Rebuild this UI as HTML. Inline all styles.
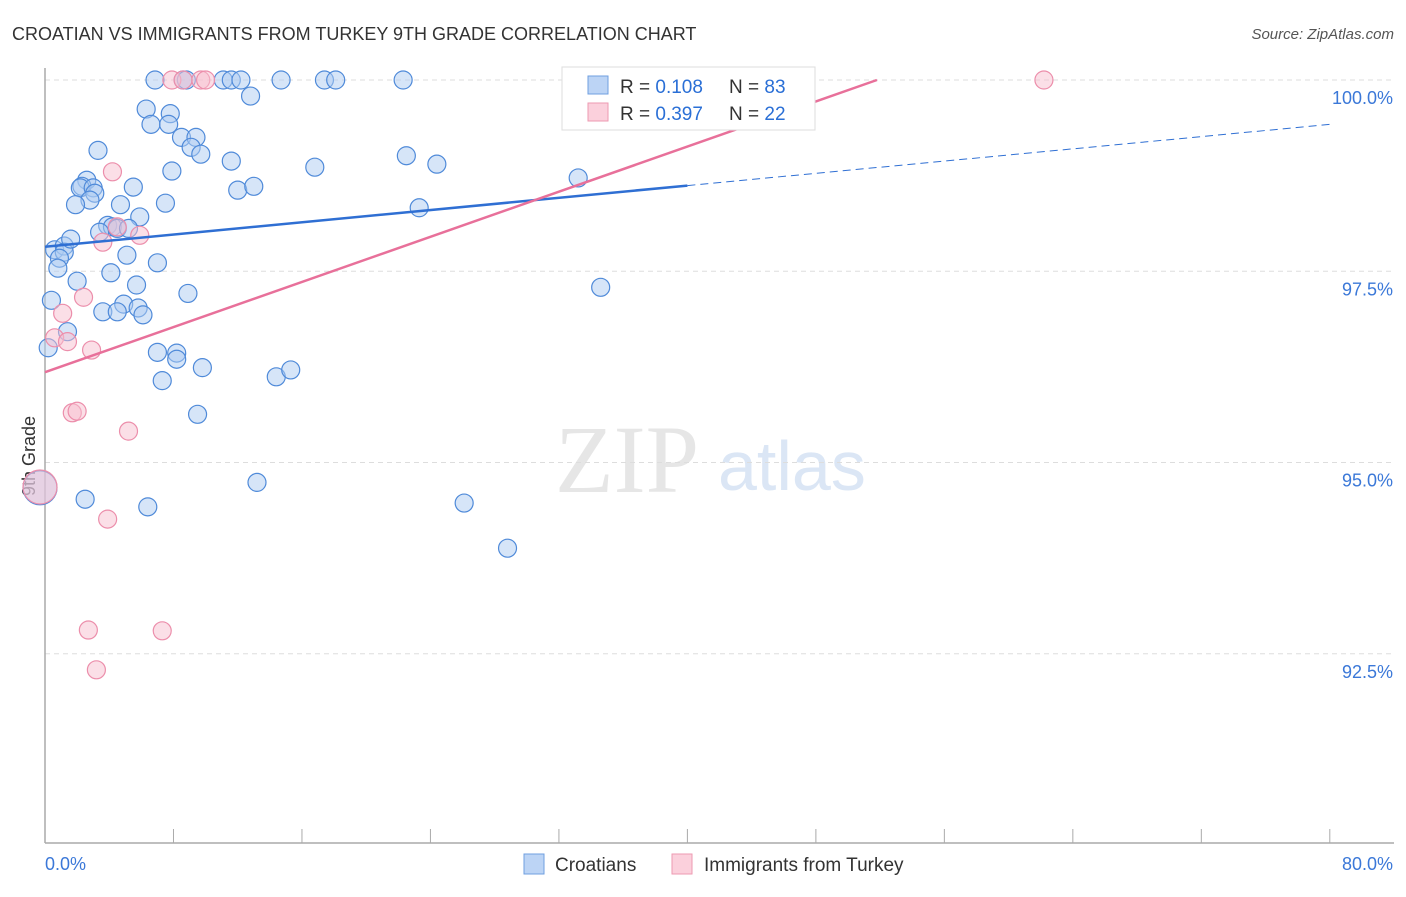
<!DOCTYPE html>
<html><head><meta charset="utf-8"><style>
body{margin:0;background:#fff;font-family:"Liberation Sans",sans-serif;}
#c{position:relative;width:1406px;height:892px;}
</style></head><body>
<div id="c">
<svg id="s" width="1406" height="892" xmlns="http://www.w3.org/2000/svg">
<text x="12" y="40" font-size="18" fill="#333">CROATIAN VS IMMIGRANTS FROM TURKEY 9TH GRADE CORRELATION CHART</text>
<text x="1394" y="39" font-size="15" fill="#555" font-style="italic" text-anchor="end">Source: ZipAtlas.com</text>
<text x="35" y="456" font-size="18" fill="#333" text-anchor="middle" transform="rotate(-90 35 456)">9th Grade</text>
<text x="555" y="492" font-size="96" fill="#e6e6e6" font-family="Liberation Serif,serif">ZIP</text>
<text x="718" y="490" font-size="70" fill="#dbe6f5">atlas</text>
<g id="grid"></g><g id="pts"></g><g id="lines"></g>
<rect x="562" y="67" width="253" height="63" fill="#fff" stroke="#ddd"/>
<rect x="588" y="76" width="20" height="18" fill="#bcd4f5" stroke="#6f9fe0"/>
<rect x="588" y="103" width="20" height="18" fill="#fbd0dc" stroke="#ee9ab2"/>
<text x="620" y="93" font-size="19" fill="#333">R = <tspan fill="#2a6fd6">0.108</tspan></text>
<text x="729" y="93" font-size="19" fill="#333">N = <tspan fill="#2a6fd6">83</tspan></text>
<text x="620" y="120" font-size="19" fill="#333">R = <tspan fill="#2a6fd6">0.397</tspan></text>
<text x="729" y="120" font-size="19" fill="#333">N = <tspan fill="#2a6fd6">22</tspan></text>
<rect x="524" y="854" width="20" height="20" fill="#bcd4f5" stroke="#6f9fe0"/>
<text x="555" y="871" font-size="19" fill="#333">Croatians</text>
<rect x="672" y="854" width="20" height="20" fill="#fbd0dc" stroke="#ee9ab2"/>
<text x="704" y="871" font-size="19" fill="#333">Immigrants from Turkey</text>
</svg></div>
<script>
const xTicksLabels=["0.0%","80.0%"];
const yTickValues=[100,97.5,95,92.5];
const yTickLabels=["100.0%","97.5%","95.0%","92.5%"];
const blueX=[6.85,8.6,8.8,11.1,11.6,12.2,14.7,17.4,18.1,22.3,36.9,12.8,6.3,7.8,6.6,7.7,8.5,9.4,9.1,9.7,3.3,11.6,16.8,22.5,24.4,7.9,33.2,2.6,2.3,2.2,3.0,3.1,5.5,12.0,13.0,2.8,1.9,4.7,7.5,23.3,5.9,3.9,4.2,4.5,3.4,5.2,0.6,1.2,1.2,0.9,1.6,0.8,5.1,7.0,4.1,2.0,5.7,0.4,8.9,34.6,4.9,3.6,4.5,5.8,6.1,1.4,0.2,7.0,8.2,8.2,9.8,7.3,14.4,15.3,9.5,13.2,2.5,6.4,26.1,28.8,0];
const blueY=[100,100,100,100,100,100,100,100,100,100,100,99.79,99.62,99.56,99.42,99.42,99.25,99.25,99.12,99.03,99.08,98.94,98.86,99.01,98.9,98.81,98.72,98.69,98.61,98.59,98.59,98.52,98.6,98.56,98.61,98.43,98.37,98.37,98.39,98.33,98.21,98.1,98.08,98.06,98.01,98.06,97.78,97.83,97.75,97.67,97.92,97.54,97.71,97.61,97.48,97.37,97.32,97.12,97.21,97.29,97.07,96.97,96.97,97.02,96.93,96.71,96.5,96.44,96.43,96.35,96.24,96.07,96.12,96.21,95.63,94.74,94.52,94.42,94.47,93.88,94.67];
const pinkX=[7.9,8.6,9.7,10.0,62.2,4.2,4.5,5.9,3.6,2.4,1.1,0.6,1.4,2.9,1.7,2.0,5.2,3.9,2.7,7.3,3.2,0];
const pinkY=[100,100,100,100,100,98.8,98.08,97.97,97.88,97.16,96.95,96.63,96.58,96.47,95.65,95.67,95.41,94.26,92.81,92.8,92.29,94.68];
const blueTrend=[[0,97.82],[40,98.62],[80,99.42]];
const pinkTrend=[[0,96.18],[51.8,100]];
const X=v=>45+v*16.06, Y=v=>80+(100-v)*76.5;
const NS="http://www.w3.org/2000/svg";
function mk(tag,attrs,parent){const e=document.createElementNS(NS,tag);for(const k in attrs)e.setAttribute(k,attrs[k]);document.getElementById(parent).appendChild(e);return e;}
const s=document.getElementById('s');
yTickValues.forEach((v,i)=>{
 const l=mk('line',{x1:45,x2:1394,y1:Y(v),y2:Y(v),stroke:'#ddd','stroke-dasharray':'5,4'},'grid');
 
 
 const t=mk('text',{x:1393,y:Y(v)+24,'font-size':18,fill:'#3b78d8','text-anchor':'end'},'grid');
 t.textContent=yTickLabels[i];
 
 
});
const ax=mk('line',{x1:45,x2:45,y1:68,y2:843,stroke:'#aaa','stroke-width':1.5},'grid');


const bx=mk('line',{x1:45,x2:1394,y1:843,y2:843,stroke:'#aaa','stroke-width':1.5},'grid');


for(let i=0;i<=10;i++){const xv=i*8;const tk=mk('line',{x1:X(xv),x2:X(xv),y1:829,y2:843,stroke:'#aaa'},'grid');
 
 }
[[0,'start',45],[80,'end',1393]].forEach((a,i)=>{const t=mk('text',{x:a[2],y:870,'font-size':18,fill:'#3b78d8','text-anchor':a[1]},'grid');t.textContent=xTicksLabels[i];
 
 });
function pts(xs,ys,fill,stroke,name){xs.forEach((x,i)=>{const big=(x===0);const c=mk('circle',{cx:X(x)-(big?5:0),cy:Y(ys[i]),r:big?17:9,fill:fill,'fill-opacity':0.5,stroke:stroke,'stroke-width':1.2},'pts');
 
 });}
pts(blueX,blueY,'#aecbf2','#4f8ad9','croatians-point');
pts(pinkX,pinkY,'#f8bfd0','#ec8eab','turkey-point');
const b1=mk('line',{x1:X(blueTrend[0][0]),y1:Y(blueTrend[0][1]),x2:X(blueTrend[1][0]),y2:Y(blueTrend[1][1]),stroke:'#2f6fd3','stroke-width':2.5},'lines');


const b2=mk('line',{x1:X(blueTrend[1][0]),y1:Y(blueTrend[1][1]),x2:X(blueTrend[2][0]),y2:Y(blueTrend[2][1]),stroke:'#2f6fd3','stroke-width':1,'stroke-dasharray':'8,5'},'lines');


const p1=mk('line',{x1:X(pinkTrend[0][0]),y1:Y(pinkTrend[0][1]),x2:X(pinkTrend[1][0]),y2:Y(pinkTrend[1][1]),stroke:'#e8709a','stroke-width':2.5},'lines');


</script>
</body></html>
